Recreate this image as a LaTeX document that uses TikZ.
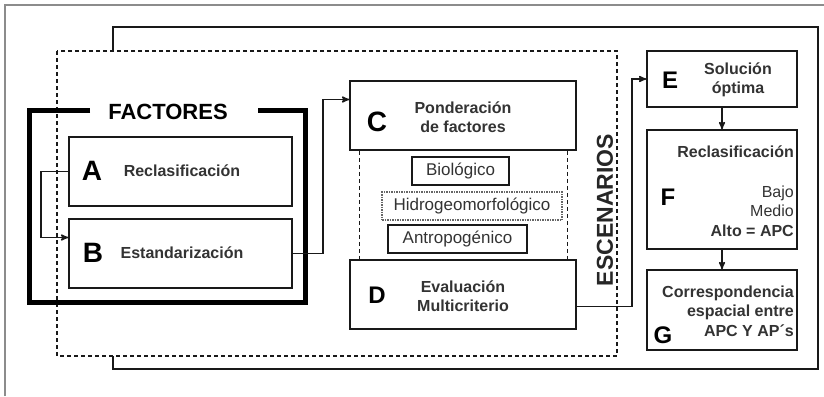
\documentclass[tikz,border=0pt]{standalone}
\usepackage{fontspec}
\setmainfont{Liberation Sans}
\usetikzlibrary{arrows}

\begin{document}
\begin{tikzpicture}[x=1pt, y=-1pt, >=stealth',
  caja/.style={draw=black!90, line width=1.6pt, fill=white, inner sep=0pt},
  letra/.style={font=\fontsize{28}{28}\selectfont\bfseries},
  letrita/.style={font=\fontsize{24}{24}\selectfont\bfseries},
  texto/.style={text=black!80, font=\fontsize{16}{19.5}\selectfont\bfseries, align=center, inner sep=0pt},
  tema/.style={draw=black!90, line width=1.5pt, fill=white, minimum height=28pt, inner sep=0pt, text=black!80, font=\fontsize{17}{17}\selectfont}]
\useasboundingbox (0,0) rectangle (824,396);
% marco exterior
\draw[black!45, line width=1.6pt] (5,396) -- (5,5) -- (824,5);
\draw[black!90, line width=1.6pt] (113,27) rectangle (818,369);
\draw[black!90, line width=1.3pt, dash pattern=on 4pt off 3pt, fill=white] (57,51) rectangle (617,356);
\node[rotate=90, text=black!85, font=\fontsize{23}{23}\selectfont\bfseries] (escenarios) at (605,210) {ESCENARIOS};

% factores
\draw[line width=5pt] (90,110) -| (29.5,302) -| (305,110) -- (258,110);
\node[font=\fontsize{22}{22}\selectfont\bfseries] (factores) at (168,112) {FACTORES};
\node[caja, minimum width=223pt, minimum height=69pt] (A) at (180.5,171.5) {};
\node[letra] (letraA) at (92,171) {A};
\node[texto] (reclasA) at (182,171) {Reclasificación};
\node[caja, minimum width=223pt, minimum height=69pt] (B) at (180.5,253.5) {};
\node[letra] (letraB) at (93,253) {B};
\node[texto] (estand) at (182,253) {Estandarización};

% ponderacion y evaluacion
\node[caja, minimum width=226pt, minimum height=69pt] (C) at (463,115.5) {};
\node[letra] (letraC) at (377,122) {C};
\node[texto] (ponder) at (463,117) {Ponderación\\de factores};
\node[caja, minimum width=226pt, minimum height=69pt] (D) at (463,294.5) {};
\node[letrita] (letraD) at (377,295) {D};
\node[texto] (evalua) at (463,296) {Evaluación\\Multicriterio};
\draw[black!90, line width=1.3pt, dash pattern=on 4pt off 3pt] ([xshift=10pt]C.south west) -- ([xshift=10pt]D.north west);
\draw[black!90, line width=1.3pt, dash pattern=on 4pt off 3pt] ([xshift=-9pt]C.south east) -- ([xshift=-9pt]D.north east);
\node[tema, minimum width=97pt] (biol) at (460.5,171) {Biológico};
\node[tema, minimum width=180pt, draw=black!60, densely dotted] (hidro) at (472,206) {Hidrogeomorfológico};
\node[tema, minimum width=139pt] (antro) at (457.5,239) {Antropogénico};

% resultados
\node[caja, minimum width=150pt, minimum height=56pt] (E) at (722,79) {};
\node[letrita] (letraE) at (670,80) {E};
\node[texto] (solucion) at (738,80) {Solución\\óptima};
\node[caja, minimum width=150pt, minimum height=119pt] (F) at (722,189.5) {};
\node[letrita] (letraF) at (668,197) {F};
\node[texto, anchor=east] (reclasF) at (794,152) {Reclasificación};
\node[texto, anchor=east, align=right] (niveles) at (794,211) {\mdseries Bajo\\\mdseries Medio\\Alto = APC};
\node[caja, minimum width=150pt, minimum height=80pt] (G) at (722,310) {};
\node[letrita] (letraG) at (663,335) {G};
\node[texto, anchor=east, align=right] (corresp) at (794,311) {Correspondencia\\espacial entre\\APC Y AP´s};

% conectores
\draw[->, black!90, line width=1.5pt] (A.west) -- ++(-27,0) |- ([yshift=16pt]B.west);
\draw[->, black!90, line width=1.5pt] (B.east) -- ++(30,0) |- ([yshift=16pt]C.west);
\draw[->, black!90, line width=1.5pt] ([yshift=-12pt]D.east) -- ++(55,0) |- (E.west);
\draw[->, black!90, line width=1.5pt] (E.south) -- (F.north);
\draw[->, black!90, line width=1.5pt] (F.south) -- (G.north);
\end{tikzpicture}
\end{document}
